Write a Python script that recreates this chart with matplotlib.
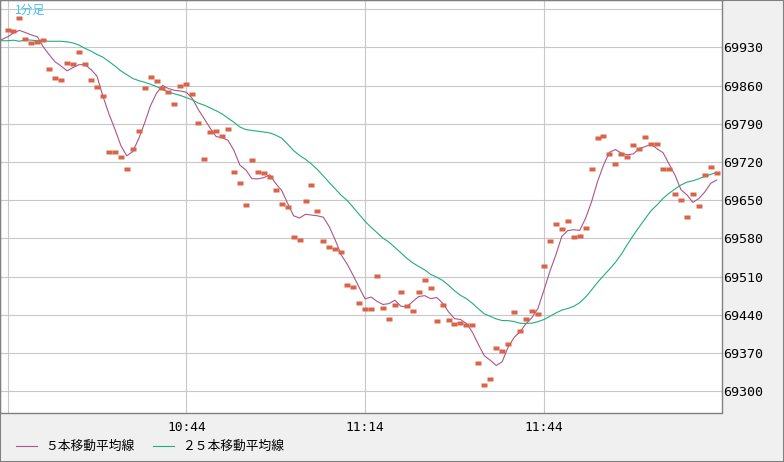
import numpy as np
import matplotlib
matplotlib.use("Agg")
import matplotlib.pyplot as plt
from matplotlib.patches import Rectangle

plt.rcParams['font.family'] = ['Noto Sans CJK JP', 'DejaVu Sans']

# 1-minute bars from 10:14
start_time = '10:14'
close = [69961, 69959, 69983, 69945, 69937, 69939, 69943, 69890, 69873, 69871,
         69901, 69899, 69921, 69899, 69870, 69857, 69840, 69738, 69738, 69730,
         69707, 69743, 69776, 69855, 69875, 69868, 69855, 69848, 69826, 69859,
         69862, 69844, 69791, 69725, 69774, 69776, 69767, 69780, 69701, 69681,
         69641, 69723, 69701, 69699, 69692, 69668, 69643, 69637, 69582, 69577,
         69648, 69677, 69630, 69575, 69564, 69560, 69555, 69494, 69491, 69461,
         69450, 69450, 69511, 69452, 69432, 69458, 69481, 69456, 69447, 69481,
         69503, 69489, 69428, 69458, 69430, 69423, 69426, 69421, 69421, 69351,
         69311, 69322, 69379, 69373, 69386, 69445, 69410, 69432, 69447, 69441,
         69529, 69575, 69606, 69597, 69611, 69582, 69584, 69599, 69708, 69763,
         69767, 69734, 69716, 69734, 69730, 69751, 69743, 69765, 69752, 69752,
         69708, 69708, 69661, 69650, 69619, 69661, 69639, 69696, 69710, 69699]

# moving average lines start two bars before the first visible bar
ma_start = -2
ma5 = [69938, 69944, 69949, 69956, 69961,
       69957.0, 69952.6, 69949.4, 69930.8, 69916.4, 69903.2, 69895.6, 69886.8, 69893.0, 69898.2,
       69898.0, 69889.2, 69877.4, 69840.8, 69808.6, 69780.6, 69750.6, 69731.2, 69738.8, 69762.2,
       69791.2, 69823.4, 69845.8, 69860.2, 69854.4, 69851.2, 69850.0, 69847.8, 69836.4, 69816.2,
       69799.2, 69782.0, 69766.6, 69764.4, 69759.6, 69741.0, 69714.0, 69705.2, 69689.4, 69689.0,
       69691.2, 69696.6, 69680.6, 69667.8, 69644.4, 69621.4, 69617.4, 69624.2, 69622.8, 69621.4,
       69618.8, 69601.2, 69576.8, 69549.6, 69532.8, 69512.2, 69490.2, 69469.2, 69472.6, 69464.8,
       69459.0, 69460.6, 69466.8, 69455.8, 69454.8, 69464.6, 69473.6, 69475.2, 69469.6, 69471.8,
       69461.6, 69445.6, 69433.0, 69431.6, 69424.2, 69408.4, 69386.0, 69365.2, 69356.8, 69347.2,
       69354.2, 69381.0, 69398.6, 69409.2, 69424.0, 69435.0, 69451.8, 69484.8, 69519.6, 69549.6,
       69583.6, 69594.2, 69596.0, 69594.6, 69616.8, 69647.2, 69684.2, 69714.2, 69737.6, 69742.8,
       69736.2, 69733.0, 69734.8, 69744.6, 69748.2, 69752.6, 69744.0, 69737.0, 69716.2, 69695.8,
       69669.2, 69659.8, 69646.0, 69653.0, 69665.0, 69681.0, 69687.0]
ma25 = [69941, 69942, 69942, 69943, 69941, 69944, 69943, 69942, 69942, 69941,
        69941, 69941, 69940, 69938, 69934, 69928, 69923, 69917, 69912, 69904,
        69896, 69887, 69880, 69873, 69869,
        69866.0, 69862.3, 69858.1, 69852.7, 69848.0, 69844.8, 69841.8, 69837.8, 69833.8, 69827.9,
        69824.0, 69819.0, 69813.8, 69808.1, 69800.2, 69792.6, 69784.0, 69779.3, 69777.8, 69776.3,
        69774.8, 69773.2, 69769.2, 69763.6, 69752.7, 69740.8, 69732.0, 69724.9, 69716.2, 69706.1,
        69694.3, 69682.2, 69670.7, 69658.8, 69649.4, 69636.9, 69623.9, 69611.2, 69600.4, 69590.5,
        69580.5, 69573.2, 69563.5, 69553.7, 69543.6, 69535.2, 69528.6, 69522.4, 69514.1, 69509.1,
        69503.2, 69494.2, 69484.2, 69475.8, 69469.7, 69461.2, 69451.2, 69441.9, 69437.3, 69432.6,
        69429.6, 69429.4, 69427.8, 69424.6, 69424.4, 69424.8, 69427.6, 69431.4, 69437.4, 69443.4,
        69448.6, 69451.7, 69455.5, 69462.4, 69472.4, 69485.7, 69499.4, 69511.8, 69523.6, 69536.1,
        69551.2, 69568.8, 69585.7, 69601.1, 69616.3, 69630.9, 69641.4, 69653.4, 69662.5, 69670.6,
        69677.8, 69683.0, 69685.6, 69689.2, 69693.7, 69697.2, 69701]

grid_times = ['10:14', '10:44', '11:14', '11:44']
y_grid = list(range(69300, 70001, 70))
legend_labels = ['５本移動平均線', '２５本移動平均線']


def to_min(s):
    h, m = s.split(':')
    return int(h) * 60 + int(m)


t0 = to_min(start_time)
x_bar = np.arange(len(close))
x_ma = np.arange(len(ma5)) + ma_start

fig = plt.figure(figsize=(7.84, 4.62), dpi=100, facecolor='#f0f0f0')
ax = fig.add_axes([0, 49.5 / 462, 721.5 / 784, 412.5 / 462])
ax.set_facecolor('white')

l5, = ax.plot(x_ma, ma5, color='#ad5588', lw=0.8, zorder=3)
l25, = ax.plot(x_ma, ma25, color='#22ad7c', lw=0.8, zorder=3)
box = [(-1, -0.55), (1, -0.55), (1, 0.55), (-1, 0.55), (-1, -0.55)]
ax.plot(x_bar, close, ls='none', marker=box, ms=4.5, mfc='#d8644a',
        mec='none', zorder=4)

ax.set_xlim(-1.26, 119.8)
ax.set_ylim(69261.2, 70016.6)

xpos = [to_min(s) - t0 for s in grid_times]
ax.set_xticks(xpos, [''] + grid_times[1:])
ax.set_yticks(y_grid, [str(v) for v in y_grid[:-1]] + [''])
ax.yaxis.tick_right()
ax.grid(True, color='#c8c8c8', lw=0.8)
ax.set_axisbelow(True)
ax.tick_params(axis='both', length=0)
ax.tick_params(axis='x', pad=6)
ax.tick_params(axis='y', pad=1.5)
for lbl in ax.get_xticklabels():
    lbl.set_fontfamily('DejaVu Sans Mono')
    lbl.set_fontsize(9.3)
for lbl in ax.get_yticklabels():
    lbl.set_fontfamily('DejaVu Sans Mono')
    lbl.set_fontsize(9.6)

for s in ['left', 'top']:
    ax.spines[s].set_color('#6e6e6e')
for s in ['right', 'bottom']:
    ax.spines[s].set_color('#808080')
for s in ax.spines.values():
    s.set_linewidth(1)

fig.text(15 / 784, 1 - 10 / 462, '1分足', color='#3ec3f0', fontsize=8.6,
         va='center', ha='left')

fig.legend([l5, l25], legend_labels, loc='center left',
           bbox_to_anchor=(16 / 784, 1 - 446.7 / 462), ncol=2, frameon=False,
           fontsize=9.2, handlelength=1.65, handletextpad=0.6,
           columnspacing=1.5, borderaxespad=0, borderpad=0)

fig.add_artist(Rectangle((0, 0), 1, 1, transform=fig.transFigure, fill=False,
                         edgecolor='#808080', lw=1.5))

fig.savefig('out.png', dpi=100, facecolor=fig.get_facecolor())
